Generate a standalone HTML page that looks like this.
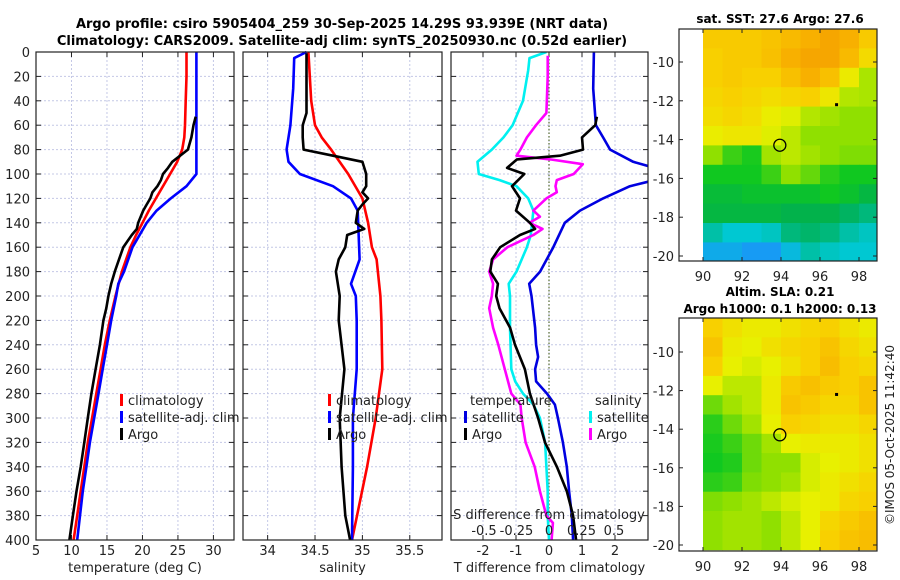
<!DOCTYPE html>
<html><head><meta charset="utf-8"><style>
body{margin:0;background:#fff}
svg{display:block;font-family:"DejaVu Sans","Liberation Sans",sans-serif}
</style></head><body>
<svg id="fig" width="900" height="580" viewBox="0 0 900 580" xmlns="http://www.w3.org/2000/svg">
<rect width="900" height="580" fill="#fff"/>
<text x="342" y="28" font-size="13" font-weight="bold" text-anchor="middle">Argo profile: csiro 5905404_259 30-Sep-2025 14.29S 93.939E (NRT data)</text>
<text x="342" y="45" font-size="13" font-weight="bold" text-anchor="middle">Climatology: CARS2009. Satellite-adj clim: synTS_20250930.nc (0.52d earlier)</text>
<g id="panels"></g>
<text x="780" y="23" font-size="12" font-weight="bold" text-anchor="middle">sat. SST: 27.6 Argo: 27.6</text>
<text x="780" y="296" font-size="12" font-weight="bold" text-anchor="middle">Altim. SLA: 0.21</text>
<text x="780" y="313" font-size="12" font-weight="bold" text-anchor="middle">Argo h1000: 0.1 h2000: 0.13</text>
<text transform="translate(894,435) rotate(-90)" font-size="12" text-anchor="middle" fill="#222">©IMOS 05-Oct-2025 11:42:40</text>
</svg>
<script>
// ---- profile data (depth in m) ----
const depthTicks=[0,20,40,60,80,100,120,140,160,180,200,220,240,260,280,300,320,340,360,380,400];
const tTicks=[5,10,15,20,25,30];
const sTicks=[34,34.5,35,35.5];
const sTickLabels=["34","34.5","35","35.5"];
const dTTicks=[-2,-1,0,1,2];
const dSTicks=[-0.5,-0.25,0,0.25,0.5];
const dSTickLabels=["-0.5","-0.25","0","0.25","0.5"];

const tClimD=[0,20,40,60,70,80,90,100,110,120,130,140,150,160,180,200,220,240,260,280,300,320,340,360,380,400];
const tClimV=[26.2,26.2,26.1,26.0,25.9,25.6,24.9,23.9,22.9,21.9,20.9,20.0,19.1,18.3,17.1,16.2,15.4,14.7,14.1,13.5,12.9,12.3,11.8,11.3,10.8,10.3];
const tSatD=[0,100,110,120,130,140,160,180,190,200,220,240,260,280,300,320,340,360,380,400];
const tSatV=[27.6,27.6,26.2,24.0,22.0,20.6,18.6,17.4,16.6,16.3,15.6,15.0,14.4,13.8,13.2,12.6,12.1,11.6,11.2,10.8];
const tArgoD=[53,60,70,80,85,90,95,100,105,110,115,120,125,130,140,145,150,160,170,180,190,200,210,220,240,260,280,300,320,340,360,380,400];
const tArgoV=[27.5,27.2,26.9,26.4,25.3,24.2,23.6,22.9,22.6,22.1,21.4,21.1,20.6,20.1,19.4,19.2,18.5,17.3,16.7,16.1,15.6,15.2,14.9,14.5,14.0,13.4,12.8,12.3,11.8,11.3,10.7,10.2,9.7];

const sClimD=[0,40,60,70,80,100,120,140,160,170,200,220,260,300,340,400];
const sClimV=[34.43,34.46,34.50,34.57,34.67,34.85,35.0,35.06,35.1,35.15,35.19,35.2,35.21,35.14,35.05,34.89];
const sSatD=[0,5,30,60,80,90,100,110,120,130,170,190,200,220,260,300,340,400];
const sSatV=[34.41,34.28,34.27,34.24,34.20,34.22,34.34,34.69,34.88,34.95,34.97,34.88,34.93,34.94,34.94,34.90,34.90,34.89];
const sArgoD=[1,50,60,70,80,85,90,100,110,115,120,125,130,140,145,150,160,170,180,200,220,260,300,340,380,400];
const sArgoV=[34.41,34.41,34.37,34.37,34.38,34.69,35.0,35.04,35.04,35.0,35.06,35.0,34.95,34.93,35.02,34.84,34.82,34.75,34.72,34.76,34.75,34.81,34.76,34.78,34.82,34.87];

const dTSatD=[0,30,60,70,80,90,95,105,110,120,130,140,160,180,190,200,226,240,250,260,270,280,289,300,320,340,360,380,400];
const dTSatV=[1.36,1.34,1.42,1.64,1.85,2.55,3.2,3.2,2.45,1.64,0.94,0.48,0.13,-0.27,-0.6,-0.53,-0.42,-0.39,-0.33,-0.42,-0.39,-0.06,0.18,0.27,0.42,0.54,0.61,0.69,0.73];
const dTArgoD=[53,60,70,80,85,88,95,100,110,120,130,140,145,150,160,170,180,190,200,210,226,240,260,280,300,320,340,360,380,400];
const dTArgoV=[1.45,1.4,1.0,1.03,0.33,-0.97,-1.27,-0.75,-1.12,-0.88,-1.0,-0.58,-0.42,-0.88,-1.48,-1.73,-1.78,-1.55,-1.6,-1.5,-1.18,-1.03,-0.73,-0.58,-0.33,-0.12,0.24,0.54,0.73,0.82];
const dSSatD=[0,5,15,40,60,70,80,90,100,105,110,120,130,140,150,160,180,190,200,226,260,270,280,289,300,320,340,360,380,400];
const dSSatV=[-0.02,-0.15,-0.16,-0.2,-0.28,-0.35,-0.44,-0.55,-0.54,-0.38,-0.25,-0.16,-0.12,-0.13,-0.14,-0.17,-0.25,-0.31,-0.3,-0.3,-0.29,-0.26,-0.2,-0.12,-0.07,-0.03,-0.02,-0.01,-0.01,0];
const dSArgoD=[3,20,50,60,70,80,85,88,92,100,105,110,115,120,130,135,140,145,150,155,160,170,180,190,200,210,226,240,260,280,289,300,320,340,360,380,386,400];
const dSArgoV=[-0.01,-0.01,-0.02,-0.1,-0.17,-0.22,-0.25,0.01,0.26,0.19,0.06,0.05,0.06,-0.02,-0.12,-0.07,-0.15,-0.05,-0.12,-0.22,-0.32,-0.43,-0.46,-0.43,-0.44,-0.46,-0.43,-0.39,-0.34,-0.29,-0.22,-0.21,-0.18,-0.11,-0.07,-0.02,0.03,0.02];

// ---- map data (value index 0..1 per 1-degree cell, rows from north) ----
const mapLons=[90,91,92,93,94,95,96,97,98];
const sstGrid=[
[.82,.82,.82,.84,.87,.9,.93,.9,.82],
[.8,.82,.82,.85,.9,.93,.93,.87,.77],
[.8,.82,.8,.8,.85,.9,.85,.72,.63],
[.78,.8,.78,.76,.78,.8,.73,.64,.63],
[.76,.78,.76,.71,.69,.64,.62,.6,.6],
[.71,.73,.73,.69,.65,.6,.6,.6,.6],
[.6,.5,.46,.62,.65,.62,.6,.58,.58],
[.45,.45,.45,.5,.6,.55,.48,.45,.45],
[.4,.4,.42,.42,.42,.42,.45,.42,.38],
[.38,.38,.38,.38,.36,.36,.36,.33,.3],
[.25,.2,.2,.22,.3,.32,.3,.25,.22],
[.1,.1,.05,.05,.15,.25,.22,.2,.2]];
const slaGrid=[
[.8,.75,.72,.72,.75,.78,.8,.75,.72],
[.84,.72,.7,.75,.78,.8,.84,.78,.75],
[.8,.7,.68,.7,.75,.8,.86,.8,.78],
[.7,.65,.65,.72,.82,.85,.82,.8,.84],
[.56,.62,.65,.72,.84,.82,.78,.78,.84],
[.48,.56,.62,.7,.8,.78,.75,.75,.78],
[.46,.5,.56,.62,.7,.72,.72,.72,.75],
[.45,.47,.56,.6,.6,.68,.7,.72,.75],
[.48,.5,.58,.6,.62,.68,.72,.75,.78],
[.58,.6,.62,.65,.68,.7,.72,.78,.8],
[.6,.62,.62,.6,.65,.7,.78,.82,.85],
[.6,.62,.62,.6,.65,.7,.8,.84,.86]];
const floatLon=93.94, floatLat=-14.29;
const otherLon=96.85, otherLat=-12.2;
const latTicks=[-10,-12,-14,-16,-18,-20];
const lonTicks=[90,92,94,96,98];

const NS="http://www.w3.org/2000/svg";
const root=document.getElementById('panels');
function el(tag,attrs,parent){const e=document.createElementNS(NS,tag);for(const k in attrs)e.setAttribute(k,attrs[k]);(parent||root).appendChild(e);return e;}
function txt(x,y,s,size,anchor,parent){const t=el('text',{x:x,y:y,'font-size':size,'text-anchor':anchor,fill:'#222'},parent);t.textContent=s;return t;}

const TOP=52,BOT=540;
const yD=d=>TOP+d*(BOT-TOP)/400;

function panel(name,x0,x1,vmin,vmax,xticks,xlabels,title,showY){
  const g=el('g',{});
  
  
  const sx=v=>x0+(v-vmin)/(vmax-vmin)*(x1-x0);
  depthTicks.forEach(d=>{
    el('line',{x1:x0,x2:x1,y1:yD(d),y2:yD(d),stroke:'#c4c8e6','stroke-width':1,'stroke-dasharray':'2,2'},g);
    el('line',{x1:x0,x2:x0+5,y1:yD(d),y2:yD(d),stroke:'#222'},g);
    el('line',{x1:x1-5,x2:x1,y1:yD(d),y2:yD(d),stroke:'#222'},g);
    if(showY){const t=txt(x0-6,yD(d)+5,String(d),13,'end',g);}
  });
  xticks.forEach((v,i)=>{
    const X=sx(v);
    el('line',{x1:X,x2:X,y1:TOP,y2:BOT,stroke:'#c4c8e6','stroke-width':1,'stroke-dasharray':'2,2'},g);
    el('line',{x1:X,x2:X,y1:BOT,y2:BOT-5,stroke:'#222'},g);
    el('line',{x1:X,x2:X,y1:TOP,y2:TOP+5,stroke:'#222'},g);
    const t=txt(X,BOT+15,xlabels[i],13,'middle',g);
    
    
  });
  const at=txt((x0+x1)/2,BOT+32,title,13,'middle',g);
  
  
  return {g,sx};
}
function series(p,D,V,color,name,sx,clip){
  const pts=D.map((d,i)=>(sx||p.sx)(V[i]).toFixed(1)+','+yD(d).toFixed(1)).join(' ');
  const pl=el('polyline',{points:pts,fill:'none',stroke:color,'stroke-width':2.6,'stroke-linejoin':'round','clip-path':clip},p.g);
  
  
}
function frame(g,x0,x1){el('rect',{x:x0,y:TOP,width:x1-x0,height:BOT-TOP,fill:'none',stroke:'#222','stroke-width':1.2},g);}
function legend(g,x,y,items){
  items.forEach((it,i)=>{
    if(it.c){const m=el('rect',{x:x,y:y+i*17-11,width:3,height:12,fill:it.c},g);}
    const t=txt(x+(it.c?8:(it.dx||0)),y+i*17,it.t,13,'start',g);
    
    
  });
}
const defs=el('defs',{});
const cp=el('clipPath',{id:'c3'},defs);el('rect',{x:451,y:TOP,width:197,height:BOT-TOP},cp);

// Panel 1 temperature
const p1=panel('temperature-panel',36,234,5,32.9,tTicks,tTicks.map(String),'temperature (deg C)',true);
series(p1,tClimD,tClimV,'#ff0000','temp-climatology-line');
series(p1,tSatD,tSatV,'#0000ff','temp-satellite-line');
series(p1,tArgoD,tArgoV,'#000','temp-argo-line');
legend(p1.g,120,405,[{c:'#ff0000',t:'climatology'},{c:'#0000ff',t:'satellite-adj. clim'},{c:'#000',t:'Argo'}]);
frame(p1.g,36,234);

// Panel 2 salinity
const p2=panel('salinity-panel',243,442,33.74,35.84,sTicks,sTickLabels,'salinity',false);
series(p2,sClimD,sClimV,'#ff0000','sal-climatology-line');
series(p2,sSatD,sSatV,'#0000ff','sal-satellite-line');
series(p2,sArgoD,sArgoV,'#000','sal-argo-line');
legend(p2.g,328,405,[{c:'#ff0000',t:'climatology'},{c:'#0000ff',t:'satellite-adj. clim'},{c:'#000',t:'Argo'}]);
frame(p2.g,243,442);

// Panel 3 differences
const p3=panel('difference-panel',451,648,-2.97,3.0,dTTicks,dTTicks.map(String),'T difference from climatology',false);
const sxS=v=>549+v*130;
const zl=el('line',{x1:p3.sx(0),x2:p3.sx(0),y1:TOP,y2:BOT,stroke:'#556b2f','stroke-width':1.2,'stroke-dasharray':'1.5,2'},p3.g);


series(p3,dSSatD,dSSatV,'#00f0f0','sal-diff-satellite-line',sxS,'url(#c3)');
series(p3,dSArgoD,dSArgoV,'#ff00ff','sal-diff-argo-line',sxS,'url(#c3)');
series(p3,dTSatD,dTSatV,'#0000e0','temp-diff-satellite-line',null,'url(#c3)');
series(p3,dTArgoD,dTArgoV,'#000','temp-diff-argo-line',null,'url(#c3)');
legend(p3.g,464,405,[{t:'temperature',dx:6},{c:'#0000e0',t:'satellite'},{c:'#000',t:'Argo'}]);
legend(p3.g,589,405,[{t:'salinity',dx:6},{c:'#00f0f0',t:'satellite'},{c:'#ff00ff',t:'Argo'}]);
const st=txt(549,519,'S difference from climatology',13,'middle',p3.g);


dSTicks.forEach((v,i)=>{const t=txt(sxS(v),535,dSTickLabels[i],13,'middle',p3.g);});
frame(p3.g,451,648);

// ---- maps ----
const stops=[[0,[30,140,255]],[0.2,[0,200,210]],[0.35,[0,176,80]],[0.45,[16,200,32]],[0.6,[144,224,0]],[0.7,[232,240,0]],[0.8,[248,208,0]],[0.9,[248,176,0]],[1,[240,144,0]]];
function cmap(v){for(let i=1;i<stops.length;i++){if(v<=stops[i][0]){const a=stops[i-1],b=stops[i],f=(v-a[0])/(b[0]-a[0]);return 'rgb('+a[1].map((c,k)=>Math.round(c+(b[1][k]-c)*f)).join(',')+')';}}return 'rgb(240,144,0)';}
function drawMap(name,grid,fx0,fx1,fy0,fy1,lat10y,lat20y){
  const g=el('g',{});
  
  
  const lonX=l=>703+(l-90)*19.5;
  const latY=l=>lat10y+(-10-l)*(lat20y-lat10y)/10;
  const topLat=-10+(lat10y-fy0)/((lat20y-lat10y)/10);
  const id='cm'+name;
  const c=el('clipPath',{id:id},defs);el('rect',{x:fx0,y:fy0,width:fx1-fx0,height:fy1-fy0},c);
  const cg=el('g',{'clip-path':'url(#'+id+')'},g);
  grid.forEach((row,r)=>row.forEach((v,ci)=>{
    const la=topLat-r, lo=mapLons[ci];
    const y0=latY(la), y1=latY(la-1)+0.6;
    const rc=el('rect',{x:lonX(lo),y:y0,width:19.5+0.6,height:y1-y0,fill:cmap(v)},cg);
    
    
  }));
  el('rect',{x:fx0,y:fy0,width:fx1-fx0,height:fy1-fy0,fill:'none',stroke:'#222','stroke-width':1.2},g);
  latTicks.forEach(l=>{const Y=latY(l);el('line',{x1:fx0,x2:fx0+4,y1:Y,y2:Y,stroke:'#222'},g);el('line',{x1:fx1-4,x2:fx1,y1:Y,y2:Y,stroke:'#222'},g);
    const t=txt(fx0-5,Y+5,String(l),13,'end',g);});
  lonTicks.forEach(l=>{const X=lonX(l);el('line',{x1:X,x2:X,y1:fy1,y2:fy1-4,stroke:'#222'},g);el('line',{x1:X,x2:X,y1:fy0,y2:fy0+4,stroke:'#222'},g);
    const t=txt(X,fy1+20,String(l),13,'middle',g);});
  const fc=el('circle',{cx:lonX(floatLon),cy:latY(floatLat),r:6,fill:'none',stroke:'#000','stroke-width':1.3},g);
  
  
  const od=el('rect',{x:lonX(otherLon)-1.5,y:latY(otherLat)-1.5,width:3,height:3,fill:'#000'},g);
  
  
}
drawMap('sst-map',sstGrid,679,877,29,261,62,256);
drawMap('sla-map',slaGrid,679,877,318,551,352,545);
</script>
</body></html>
